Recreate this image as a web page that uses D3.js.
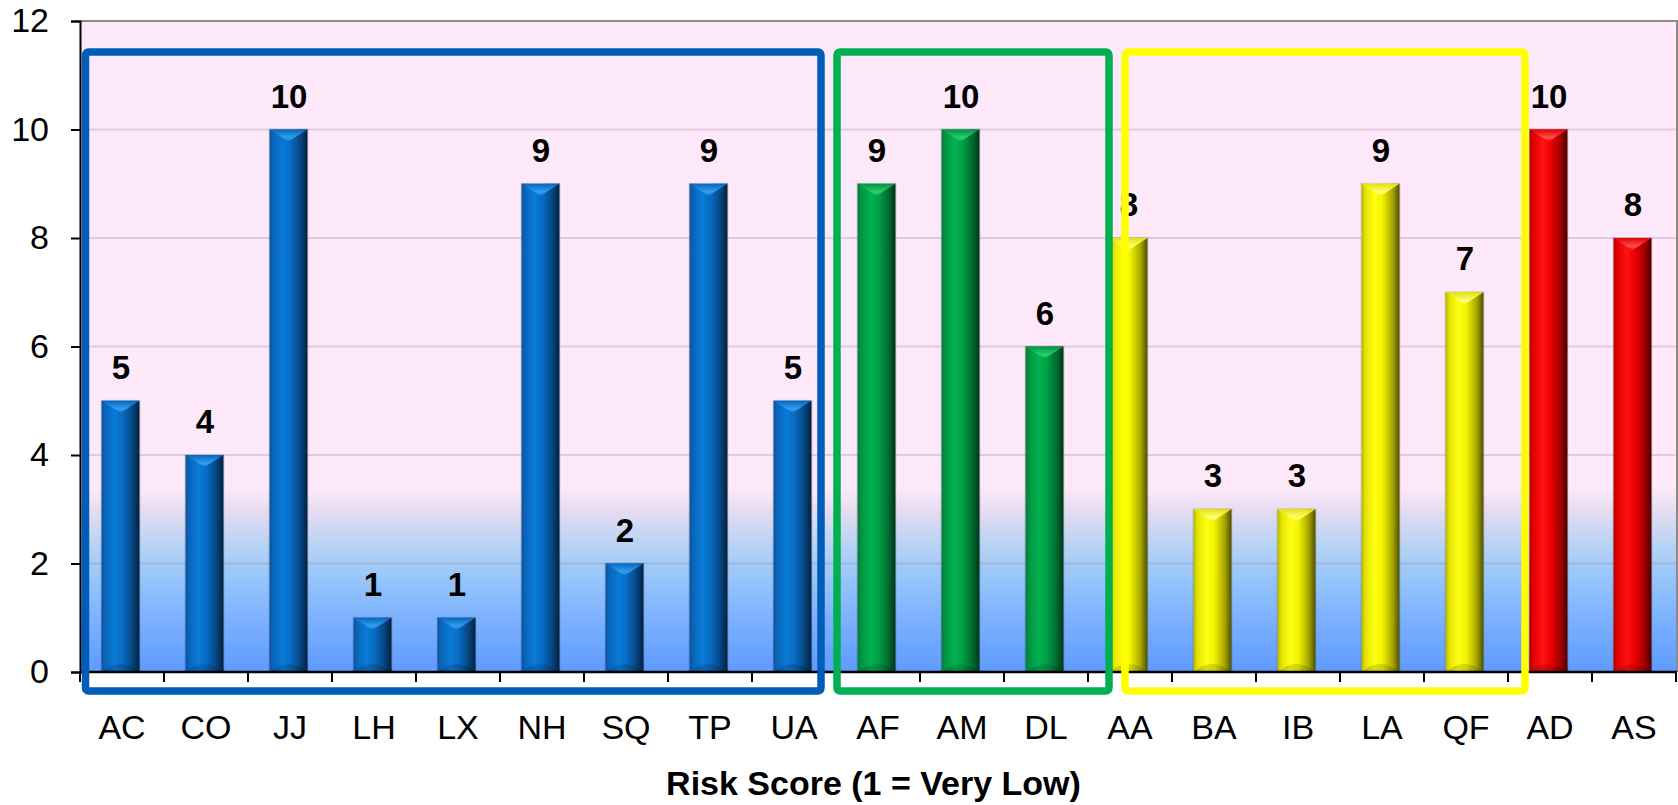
<!DOCTYPE html>
<html>
<head>
<meta charset="utf-8">
<script src="https://cdn.jsdelivr.net/npm/d3@7"></script>
<style>
  html, body { margin: 0; padding: 0; background: #fff; }
  svg { display: block; font-family: "Liberation Sans", Arial, sans-serif; }
</style>
</head>
<body>
<svg id="chart" width="1678" height="805"></svg>
<script>
// Risk scores per carrier code
const categories = ["AC","CO","JJ","LH","LX","NH","SQ","TP","UA","AF","AM","DL","AA","BA","IB","LA","QF","AD","AS"];
const scores     = [5, 4, 10, 1, 1, 9, 2, 9, 5, 9, 10, 6, 8, 3, 3, 9, 7, 10, 8];
const barGroup   = ["blue","blue","blue","blue","blue","blue","blue","blue","blue",
                    "green","green","green",
                    "yellow","yellow","yellow","yellow","yellow",
                    "red","red"];
const yTicks     = [0, 2, 4, 6, 8, 10, 12];
const xTitle     = "Risk Score (1 = Very Low)";

// Outlined groupings of carriers
const groupBoxes = [
  { first: "AC", last: "UA", color: "#005CB9", padL: 5.5, padR: -15 },
  { first: "AF", last: "DL", color: "#00B050", padL: 1,   padR: 21 },
  { first: "AA", last: "QF", color: "#FFFF00", padL: 37,  padR: 17 }
];

// Shading for the cylinder-like bars
const barShades = {
  blue:   { stops: ["#0f5299","#0866bb","#0a7ad8","#076cc4","#05447e","#03203c"], cap: "#30a0f4" },
  green:  { stops: ["#0a7a3a","#009442","#00b24f","#00a046","#006a2e","#00351a"], cap: "#2ccf6c" },
  yellow: { stops: ["#b5b500","#e2e200","#ffff14","#f2f200","#a6a600","#4f4f00"], cap: "#ffff80" },
  red:    { stops: ["#b00000","#e20000","#ff1212","#f00000","#a00000","#4a0000"], cap: "#ff5050" }
};
const shadeOffsets = [0, 0.1, 0.35, 0.55, 0.82, 1];

const svg = d3.select("#chart");
const plot = { left: 80, top: 21, right: 1677, bottom: 672 };

const x = d3.scaleBand().domain(categories).range([plot.left, plot.right - 1]).paddingInner(0).paddingOuter(0);
const y = d3.scaleLinear().domain([0, 12]).range([plot.bottom, plot.top]);

const defs = svg.append("defs");

// Plot background: pink above, fading into blue near the baseline
const bg = defs.append("linearGradient")
  .attr("id", "bg-grad")
  .attr("gradientUnits", "userSpaceOnUse")
  .attr("x1", 0).attr("x2", 0)
  .attr("y1", plot.top).attr("y2", plot.bottom);
const span = plot.bottom - plot.top;
const bgStops = [
  [0, "#fde9f9"],
  [(488 - plot.top) / span, "#fde9f9"],
  [(512 - plot.top) / span, "#e4dcf1"],
  [(545 - plot.top) / span, "#b8d3f4"],
  [(580 - plot.top) / span, "#96c5fb"],
  [(620 - plot.top) / span, "#7cb1ff"],
  [1, "#5e9bff"]
];
bgStops.forEach(([o, c]) => bg.append("stop").attr("offset", o).attr("stop-color", c));

Object.entries(barShades).forEach(([name, s]) => {
  const g = defs.append("linearGradient").attr("id", "bar-" + name)
    .attr("x1", 0).attr("x2", 1).attr("y1", 0).attr("y2", 0);
  s.stops.forEach((c, i) => g.append("stop").attr("offset", shadeOffsets[i]).attr("stop-color", c));
  const cg = defs.append("linearGradient").attr("id", "cap-" + name)
    .attr("x1", 0).attr("x2", 0).attr("y1", 0).attr("y2", 1);
  cg.append("stop").attr("offset", 0).attr("stop-color", s.stops[1]);
  cg.append("stop").attr("offset", 0.7).attr("stop-color", s.cap);
  cg.append("stop").attr("offset", 1).attr("stop-color", s.stops[2]);
});

// Background
svg.append("rect")
  .attr("x", plot.left).attr("y", plot.top)
  .attr("width", plot.right - plot.left).attr("height", plot.bottom - plot.top)
  .attr("fill", "url(#bg-grad)");

// Gridlines
svg.append("g").selectAll("line")
  .data(yTicks.filter(t => t > 0 && t < 12))
  .join("line")
  .attr("x1", plot.left).attr("x2", plot.right)
  .attr("y1", d => y(d)).attr("y2", d => y(d))
  .attr("stroke", "rgba(110,90,120,0.2)")
  .attr("stroke-width", 2);

// Grey frame on top and right
svg.append("path")
  .attr("d", `M${plot.left},${plot.top}H${plot.right}V${plot.bottom}`)
  .attr("fill", "none").attr("stroke", "#8a8a8a").attr("stroke-width", 2);

// Bars
const bw = 38;
const bars = svg.append("g").selectAll("g.bar")
  .data(categories.map((c, i) => ({ cat: c, v: scores[i], grp: barGroup[i] })))
  .join("g").attr("class", "bar");

bars.each(function(d) {
  const g = d3.select(this);
  const cx = x(d.cat) + x.bandwidth() / 2 - 1.5;
  const x0 = cx - bw / 2, x1 = cx + bw / 2;
  const yt = y(d.v), yb = y(0);
  g.append("rect")
    .attr("x", x0 - 1).attr("y", yt - 1).attr("width", bw + 2).attr("height", yb - yt + 1)
    .attr("fill", "rgba(0,0,0,0.12)");
  g.append("rect")
    .attr("x", x0).attr("y", yt).attr("width", bw).attr("height", yb - yt)
    .attr("fill", `url(#bar-${d.grp})`);
  // bevelled top
  g.append("path")
    .attr("d", `M${x0},${yt}L${x1},${yt}L${cx},${yt + 12}Z`)
    .attr("fill", `url(#cap-${d.grp})`);
  // soft shade at the base
  g.append("path")
    .attr("d", `M${x0},${yb}Q${cx},${yb - 16} ${x1},${yb}Z`)
    .attr("fill", "rgba(0,0,0,0.14)");
});

// Value labels
svg.append("g").selectAll("text")
  .data(categories.map((c, i) => ({ cat: c, v: scores[i] })))
  .join("text")
  .attr("x", d => x(d.cat) + x.bandwidth() / 2 - 1)
  .attr("y", d => y(d.v) - 22)
  .attr("text-anchor", "middle")
  .attr("font-size", 33).attr("font-weight", "bold").attr("fill", "#000")
  .text(d => d.v);

// Axes
const yAxis = d3.axisLeft(y).tickValues(yTicks).tickSize(9).tickPadding(22).tickFormat(d3.format("d"));
const gy = svg.append("g").attr("transform", `translate(${plot.left},0)`).call(yAxis);
gy.select(".domain").attr("stroke", "#000").attr("stroke-width", 2);
gy.selectAll(".tick line").attr("stroke", "#000").attr("stroke-width", 2);
gy.selectAll(".tick text").attr("font-size", 34).attr("fill", "#000")
  .attr("font-family", "'Liberation Sans', Arial, sans-serif");

// Category axis with ticks between bands
const gx = svg.append("g").attr("transform", `translate(0,${plot.bottom})`);
gx.append("line")
  .attr("x1", plot.left).attr("x2", plot.right)
  .attr("stroke", "#000").attr("stroke-width", 2.5);
const boundaries = categories.map(c => x(c)).concat([x(categories[categories.length - 1]) + x.bandwidth()]);
gx.selectAll("line.tk").data(boundaries).join("line").attr("class", "tk")
  .attr("x1", d => d).attr("x2", d => d).attr("y1", 0).attr("y2", 10)
  .attr("stroke", "#000").attr("stroke-width", 2);
gx.selectAll("text").data(categories).join("text")
  .attr("x", d => x(d) + x.bandwidth() / 2)
  .attr("y", 67)
  .attr("text-anchor", "middle")
  .attr("font-size", 34).attr("fill", "#000")
  .text(d => d);

// Axis title
svg.append("text")
  .attr("x", (plot.left + plot.right) / 2 - 5)
  .attr("y", 795)
  .attr("text-anchor", "middle")
  .attr("font-size", 34).attr("font-weight", "bold").attr("fill", "#000")
  .text(xTitle);

// Group outlines, drawn over bars and labels
const boxTop = 52, boxBottom = 691;
svg.append("g").selectAll("rect")
  .data(groupBoxes)
  .join("rect")
  .attr("x", d => x(d.first) + d.padL)
  .attr("y", boxTop)
  .attr("width", d => (x(d.last) + x.bandwidth() + d.padR) - (x(d.first) + d.padL))
  .attr("height", boxBottom - boxTop)
  .attr("rx", 3)
  .attr("fill", "none")
  .attr("stroke", d => d.color)
  .attr("stroke-width", 7.5);
</script>
</body>
</html>
